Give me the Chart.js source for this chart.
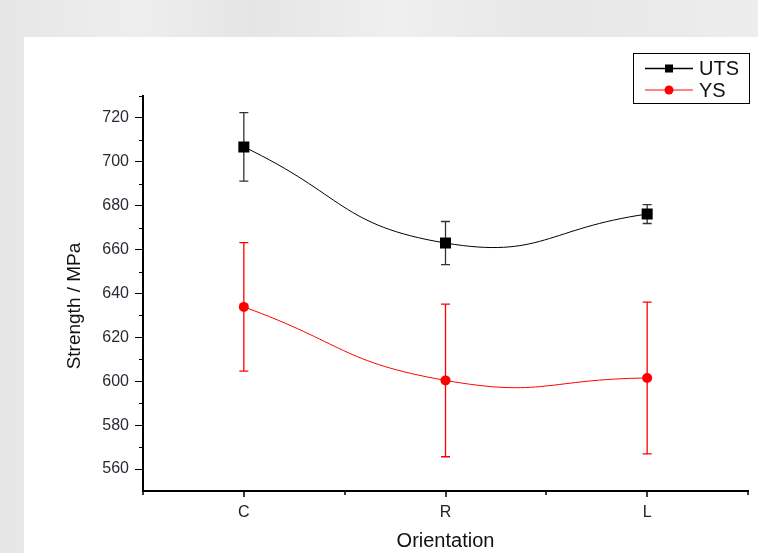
<!DOCTYPE html>
<html><head><meta charset="utf-8">
<script src="https://cdn.jsdelivr.net/npm/chart.js@4.4.1/dist/chart.umd.min.js"></script>
<style>
html,body{margin:0;padding:0;width:758px;height:553px;overflow:hidden;
background:linear-gradient(90deg,#e6e6e6 0%,#eeeeee 18%,#e5e5e5 33%,#efefef 52%,#e7e7e7 72%,#ededed 100%);}
#wrap{position:absolute;left:24px;top:37px;width:734px;height:516px;background:#fff;}
canvas{display:block;}
</style></head><body>
<div id="wrap"><canvas id="c" width="734" height="516"></canvas></div>
<script>
// ---- data ----
const categories = ['C', 'R', 'L'];
const utsValues = [706.8, 663.0, 676.2];
const utsErrors = [15.6, 9.8, 4.3];
const ysValues = [633.9, 600.4, 601.5];
const ysErrors = [29.3, 34.8, 34.6];
const yTickValues = [560, 580, 600, 620, 640, 660, 680, 700, 720];
const yMinorValues = [570, 590, 610, 630, 650, 670, 690, 710, 730];
const seriesNames = ['UTS', 'YS'];
const xTitle = 'Orientation';
const yTitle = 'Strength / MPa';

const FONT = "'Liberation Sans', Arial, sans-serif";

const errorBars = {
  id: 'errorBars',
  beforeDatasetsDraw(chart) {
    const ctx = chart.ctx, y = chart.scales.y;
    chart.data.datasets.forEach((ds, i) => {
      const meta = chart.getDatasetMeta(i);
      ctx.save();
      ctx.strokeStyle = ds.errorColor;
      ctx.lineWidth = 1.3;
      meta.data.forEach((pt, j) => {
        const e = ds.errors[j], v = ds.data[j];
        const top = y.getPixelForValue(v + e), bot = y.getPixelForValue(v - e);
        ctx.beginPath();
        ctx.moveTo(pt.x, top); ctx.lineTo(pt.x, bot);
        ctx.moveTo(pt.x - 4.5, top); ctx.lineTo(pt.x + 4.5, top);
        ctx.moveTo(pt.x - 4.5, bot); ctx.lineTo(pt.x + 4.5, bot);
        ctx.stroke();
      });
      ctx.restore();
    });
  }
};

const decorations = {
  id: 'decorations',
  afterDraw(chart) {
    const ctx = chart.ctx, x = chart.scales.x, y = chart.scales.y;
    const area = chart.chartArea;
    ctx.save();
    ctx.strokeStyle = '#000';
    ctx.lineWidth = 1;
    // minor y ticks
    ctx.beginPath();
    yMinorValues.forEach(v => {
      const py = Math.round(y.getPixelForValue(v)) + 0.5;
      ctx.moveTo(area.left - 4, py); ctx.lineTo(area.left, py);
    });
    ctx.stroke();
    // x ticks: major at categories, minor at boundaries
    ctx.lineWidth = 1.5;
    ctx.beginPath();
    const n = categories.length;
    for (let i = 0; i < n; i++) {
      const px = Math.round(x.getPixelForValue(i));
      ctx.moveTo(px, area.bottom); ctx.lineTo(px, area.bottom + 6);
    }
    for (let i = 0; i <= n; i++) {
      const px = Math.round(x.getPixelForValue(i - 0.5));
      ctx.moveTo(px, area.bottom); ctx.lineTo(px, area.bottom + 4);
    }
    ctx.stroke();
    // y title
    ctx.fillStyle = '#111';
    ctx.font = '19px ' + FONT;
    ctx.textAlign = 'center';
    ctx.textBaseline = 'middle';
    ctx.translate(51, 269);
    ctx.rotate(-Math.PI / 2);
    ctx.fillText(yTitle, 0, 0);
    ctx.restore();

    // legend
    ctx.save();
    const bx = 609.5, by = 16.5, bw = 116, bh = 50;
    ctx.strokeStyle = '#000'; ctx.lineWidth = 1;
    ctx.strokeRect(bx, by, bw, bh);
    const rows = [31.5, 53];
    chart.data.datasets.forEach((ds, i) => {
      const ry = rows[i];
      ctx.strokeStyle = ds.legendLine;
      ctx.lineWidth = 1.5;
      ctx.beginPath(); ctx.moveTo(621, ry); ctx.lineTo(669, ry); ctx.stroke();
      ctx.fillStyle = ds.backgroundColor;
      if (ds.pointStyle === 'rect') {
        ctx.fillRect(641, ry - 4, 8, 8);
      } else {
        ctx.beginPath(); ctx.arc(645, ry, 4.5, 0, Math.PI * 2); ctx.fill();
      }
      ctx.fillStyle = '#111';
      ctx.font = '20px ' + FONT;
      ctx.textAlign = 'left'; ctx.textBaseline = 'middle';
      ctx.fillText(ds.label, 675, ry + 1);
    });
    ctx.restore();
  }
};

new Chart(document.getElementById('c'), {
  type: 'line',
  data: {
    labels: categories,
    datasets: [
      { label: seriesNames[0], data: utsValues, errors: utsErrors, errorColor: '#333',
        legendLine: '#000',
        borderColor: '#000', borderWidth: 1, backgroundColor: '#000',
        pointStyle: 'rect', pointRadius: 7.8, pointBorderWidth: 0, pointHoverRadius: 7.8,
        tension: 0.5, fill: false },
      { label: seriesNames[1], data: ysValues, errors: ysErrors, errorColor: '#ff0000',
        legendLine: '#ff5a5a',
        borderColor: '#ff0000', borderWidth: 1, backgroundColor: '#ff0000',
        pointStyle: 'circle', pointRadius: 5, pointBorderWidth: 0, pointHoverRadius: 5,
        tension: 0.5, fill: false }
    ]
  },
  options: {
    responsive: false,
    animation: false,
    devicePixelRatio: 1,
    layout: { padding: { top: 59, right: 10, left: 0, bottom: 0 } },
    plugins: { legend: { display: false }, tooltip: { enabled: false } },
    scales: {
      x: {
        type: 'category',
        offset: true,
        grid: { display: true, drawOnChartArea: false, drawTicks: false },
        border: { display: true, color: '#000', width: 2 },
        ticks: { color: '#222', font: { family: FONT, size: 16 }, padding: 12 },
        title: { display: true, text: xTitle, color: '#111',
                 font: { family: FONT, size: 20 }, padding: { top: 0, bottom: 0 } },
        afterFit: s => { s.height = 62; }
      },
      y: {
        min: 550, max: 730,
        afterBuildTicks: s => { s.ticks = yTickValues.map(v => ({ value: v })); },
        grid: { display: true, drawOnChartArea: false, drawTicks: true, tickLength: 8,
                tickColor: '#000', tickWidth: 1 },
        border: { display: true, color: '#000', width: 2 },
        ticks: { color: '#2a2a35', font: { family: FONT, size: 16 }, padding: 6 },
        afterFit: s => { s.width = 119; }
      }
    }
  },
  plugins: [errorBars, decorations]
});
</script>
</body></html>
